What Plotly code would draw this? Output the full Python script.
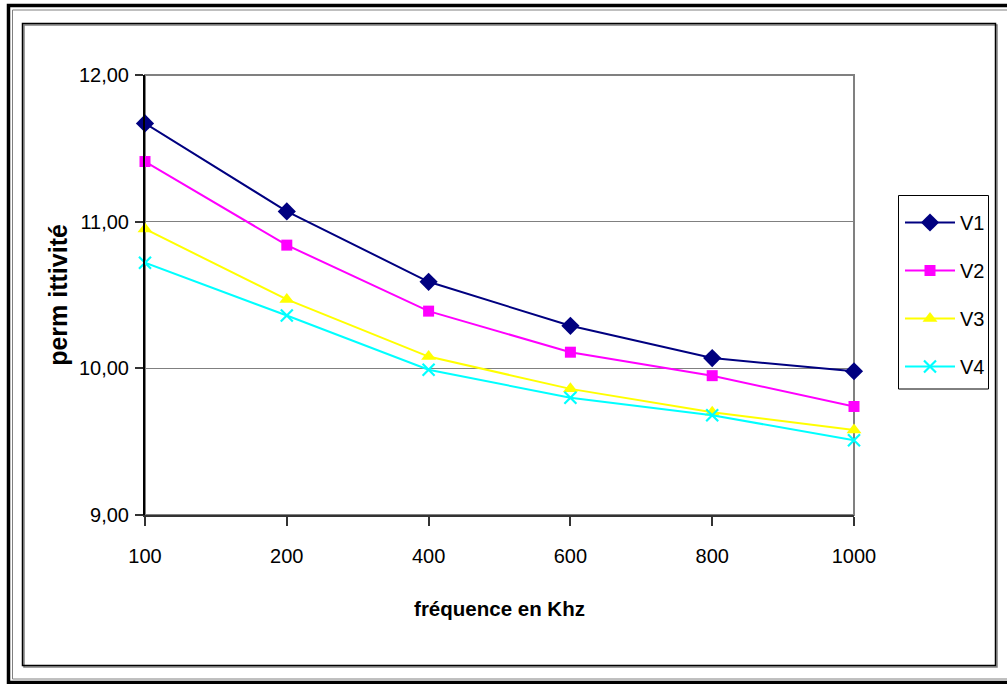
import plotly.graph_objects as go

# Measured permittivity versus frequency for four samples
freq = ["100", "200", "400", "600", "800", "1000"]
V1 = [11.67, 11.07, 10.59, 10.29, 10.07, 9.98]
V2 = [11.41, 10.84, 10.39, 10.11, 9.95, 9.74]
V3 = [10.95, 10.47, 10.08, 9.86, 9.70, 9.58]
V4 = [10.72, 10.36, 9.99, 9.80, 9.68, 9.51]
y_ticks = [9, 10, 11, 12]

W, H = 1007, 684
PL, PR, PT, PB = 145, 854, 75, 515  # plot area in pixels


def px(x):
    return (x - PL) / (PR - PL)


def py(y):
    return (PB - y) / (PB - PT)


FONT = "Liberation Sans, Arial, sans-serif"

series = [
    ("V1", V1, "#000080", "diamond", 14),
    ("V2", V2, "#FF00FF", "square", 11),
    ("V3", V3, "#FFFF00", "triangle-up", 13),
    ("V4", V4, "#00FFFF", "x-thin", 12),
]

fig = go.Figure()
for name, vals, color, sym, size in series:
    marker = dict(symbol=sym, size=size, color=color)
    if sym == "x-thin":
        marker["line"] = dict(color=color, width=2.2)
    fig.add_trace(go.Scatter(
        x=freq, y=vals, name=name, mode="lines+markers",
        line=dict(color=color, width=2), marker=marker,
        legendgroup=name, cliponaxis=False,
    ))

shapes = []
# plot-area border (grey)
shapes.append(dict(type="rect", xref="paper", yref="paper", x0=0, x1=1, y0=0, y1=1,
                   line=dict(color="#808080", width=2), layer="below"))
# inner chart frame with shadow
shapes.append(dict(type="rect", xref="paper", yref="paper",
                   x0=px(24), x1=px(997), y0=py(667), y1=py(25),
                   line=dict(color="#808080", width=1.5), layer="below"))
shapes.append(dict(type="rect", xref="paper", yref="paper",
                   x0=px(22.5), x1=px(995.5), y0=py(665.5), y1=py(23.5),
                   line=dict(color="#000000", width=1.5), layer="below"))
# outer double frame
shapes.append(dict(type="rect", xref="paper", yref="paper",
                   x0=px(8.5), x1=px(1012), y0=py(682.5), y1=py(5.5),
                   line=dict(color="#000000", width=3.5), layer="below"))
shapes.append(dict(type="rect", xref="paper", yref="paper",
                   x0=px(12.5), x1=px(1008), y0=py(679), y1=py(10),
                   line=dict(color="#808080", width=1), layer="below"))
# legend box
shapes.append(dict(type="rect", xref="paper", yref="paper",
                   x0=px(898.5), x1=px(988.5), y0=py(389), y1=py(195.5),
                   line=dict(color="#000000", width=1), fillcolor="white", layer="below"))

fig.update_layout(
    width=W, height=H,
    margin=dict(l=PL, r=W - PR, t=PT, b=H - PB, pad=0),
    paper_bgcolor="white", plot_bgcolor="white",
    separators=", ",
    font=dict(family=FONT, color="#000000", size=20),
    shapes=shapes,
    showlegend=True,
    legend=dict(
        x=px(900), y=py(203), xanchor="left", yanchor="top",
        bgcolor="rgba(0,0,0,0)", borderwidth=0,
        font=dict(family=FONT, size=20),
        traceorder="grouped", tracegroupgap=19,
        itemwidth=50,
    ),
    xaxis=dict(
        type="category", range=[0, 5], showgrid=False,
        showline=True, linecolor="#333333", linewidth=2,
        ticks="outside", ticklen=9, tickcolor="#333333", tickwidth=1.5,
        ticklabelstandoff=13,
        tickfont=dict(family=FONT, size=20),
        title=dict(text="fréquence en Khz", standoff=36,
                   font=dict(family=FONT, size=20.5, weight="bold")),
        zeroline=False, fixedrange=True,
    ),
    yaxis=dict(
        range=[9, 12], tickvals=y_ticks, tickformat=".2f",
        showgrid=True, gridcolor="#808080", gridwidth=1,
        showline=True, linecolor="#000000", linewidth=2,
        ticks="outside", ticklen=8, tickcolor="#333333", tickwidth=1.5,
        ticklabelstandoff=2,
        tickfont=dict(family=FONT, size=20),
        title=dict(text="perm ittivité", standoff=4,
                   font=dict(family=FONT, size=25, weight="bold")),
        zeroline=False, fixedrange=True,
    ),
)

fig.write_html("out.html")
